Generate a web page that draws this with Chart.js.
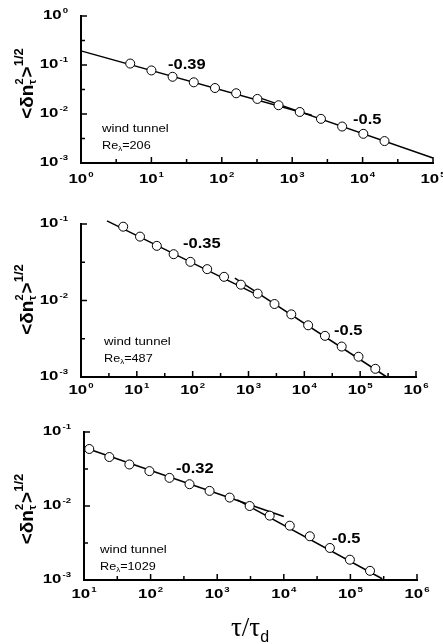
<!DOCTYPE html>
<html>
<head>
<meta charset="utf-8">
<script src="https://cdn.jsdelivr.net/npm/chart.js@4/dist/chart.umd.min.js"></script>
<style>
  html, body { margin: 0; padding: 0; background: #fff; }
  #wrap { position: relative; width: 443px; height: 644px; }
  canvas { position: absolute; left: 0; }
</style>
</head>
<body>
<div id="wrap">
  <canvas id="c1" width="443" height="205" style="top:0"></canvas>
  <canvas id="c2" width="443" height="205" style="top:205px"></canvas>
  <canvas id="c3" width="443" height="234" style="top:410px"></canvas>
</div>
<script>
// Re_lambda = 206
const tau1 = [5, 10, 20, 40, 80, 160, 320, 640, 1280, 2560, 5120, 10240, 20480];
const dn1 = [0.107, 0.0775, 0.0575, 0.0443, 0.0339, 0.0265, 0.0203, 0.0151, 0.0110, 0.00796, 0.00555, 0.00394, 0.00280];
const fitShortTau1 = [1, 1900];
const fitShortDn1 = [0.194, 0.00946];
const fitLongTau1 = [316, 100000];
const fitLongDn1 = [0.0224, 0.00126];

// Re_lambda = 487
const tau2 = [5.7, 11.4, 22.8, 45.6, 91, 182, 365, 730, 1460, 2920, 5840, 11700, 23400, 46700, 93400, 187000];
const dn2 = [0.0922, 0.0684, 0.0518, 0.0403, 0.0320, 0.0257, 0.0204, 0.0161, 0.0123, 0.0090, 0.00659, 0.00474, 0.00345, 0.00250, 0.00184, 0.00128];
const fitShortTau2 = [2.92, 1600];
const fitShortDn2 = [0.110, 0.0114];
const fitLongTau2 = [570, 300000];
const fitLongDn2 = [0.0196, 0.00100];

// Re_lambda = 1029
const tau3 = [12, 24, 48, 96, 192, 384, 768, 1540, 3070, 6140, 12300, 24600, 49200, 98300, 197000];
const dn3 = [0.0589, 0.0459, 0.0364, 0.0296, 0.0240, 0.0197, 0.0160, 0.0130, 0.0100, 0.00741, 0.00542, 0.00390, 0.00271, 0.00188, 0.00133];
const fitShortTau3 = [12, 10000];
const fitShortDn3 = [0.0585, 0.0072];
const fitLongTau3 = [2000, 300000];
const fitLongDn3 = [0.0121, 0.00104];

const SANS = '"Liberation Sans", Arial, Helvetica, sans-serif';
const SERIF = '"Liberation Serif", "Times New Roman", serif';

const pts = (xs, ys) => xs.map((x, i) => ({ x: x, y: ys[i] }));

// the original lettering is a bit wider than Arial, so stretch it sideways
function wideText(ctx, txt, x, y, font, sx) {
  ctx.font = font;
  ctx.save();
  ctx.translate(x, y);
  ctx.scale(sx, 1);
  ctx.fillText(txt, 0, 0);
  ctx.restore();
  return ctx.measureText(txt).width * sx;
}
function textW(ctx, txt, font, sx) {
  ctx.font = font;
  return ctx.measureText(txt).width * sx;
}

function powLabel(ctx, exp, x, y, align) {
  const fb = 'bold 12px ' + SANS, fe = 'bold 8px ' + SANS;
  const wb = textW(ctx, '10', fb, 1.4);
  const we = textW(ctx, exp, fe, 1.2);
  const w = wb + 1 + we;
  const left = align === 'right' ? x - w : x - w / 2;
  ctx.textAlign = 'left';
  ctx.textBaseline = 'middle';
  wideText(ctx, '10', left, y, fb, 1.4);
  wideText(ctx, exp, left + wb + 1, y - 5, fe, 1.2);
}

// ticks pointing inwards, decade labels, y title and in-plot notes
const decor = {
  id: 'decor',
  afterDraw(chart, args, opts) {
    const { ctx, chartArea: a, scales: { x, y } } = chart;
    ctx.save();
    ctx.strokeStyle = '#000';
    ctx.fillStyle = '#000';
    ctx.lineWidth = 1.5;
    const x0 = Math.round(Math.log10(x.min)), x1 = Math.round(Math.log10(x.max));
    const y0 = Math.round(Math.log10(y.min)), y1 = Math.round(Math.log10(y.max));
    ctx.beginPath();
    for (let e = x0; e <= x1; e++) {
      const px = x.getPixelForValue(Math.pow(10, e));
      ctx.moveTo(px, a.bottom); ctx.lineTo(px, a.bottom - 6);
      if (e < x1) {
        const pm = x.getPixelForValue(Math.pow(10, e + 0.5));
        ctx.moveTo(pm, a.bottom); ctx.lineTo(pm, a.bottom - 4);
      }
    }
    for (let e = y0; e <= y1; e++) {
      const py = y.getPixelForValue(Math.pow(10, e));
      ctx.moveTo(a.left, py); ctx.lineTo(a.left + 6, py);
      if (e < y1) {
        const pm = y.getPixelForValue(Math.pow(10, e + 0.5));
        ctx.moveTo(a.left, pm); ctx.lineTo(a.left + 4, pm);
      }
    }
    ctx.stroke();

    for (let e = x0; e <= x1; e++) {
      powLabel(ctx, String(e), x.getPixelForValue(Math.pow(10, e)), a.bottom + opts.xLabelGap, 'center');
    }
    for (let e = y0; e <= y1; e++) {
      powLabel(ctx, String(e), a.left - 13, y.getPixelForValue(Math.pow(10, e)), 'right');
    }

    // y title  <δn_τ^2>^{1/2}
    ctx.save();
    ctx.translate(33, (a.top + a.bottom) / 2 + opts.titleShift);
    ctx.rotate(-Math.PI / 2);
    ctx.textBaseline = 'alphabetic';
    ctx.textAlign = 'left';
    const big = 'bold 19px ' + SANS, small = 'bold 11px ' + SANS, half = 'bold 13px ' + SANS;
    ctx.font = big;
    const wMain = ctx.measureText('<δn').width;
    const wGt = ctx.measureText('>').width;
    ctx.font = small;
    const wStack = Math.max(ctx.measureText('τ').width, ctx.measureText('2').width) + 1;
    ctx.font = half;
    const wHalf = ctx.measureText('1/2').width;
    let cx = -(wMain + wStack + wGt + wHalf) / 2;
    ctx.font = big; ctx.fillText('<δn', cx, 0); cx += wMain;
    ctx.font = small; ctx.fillText('τ', cx, 3); ctx.fillText('2', cx, -10); cx += wStack;
    ctx.font = big; ctx.fillText('>', cx, 0); cx += wGt;
    ctx.font = half; ctx.fillText('1/2', cx, -10);
    ctx.restore();

    // notes
    ctx.textAlign = 'left';
    ctx.textBaseline = 'middle';
    opts.notes.forEach(n => {
      wideText(ctx, n.text, n.x, n.y, 'bold 15px ' + SANS, 1.1);
    });
    const w = opts.wind;
    const f11 = '11px ' + SANS;
    wideText(ctx, 'wind tunnel', w.x, w.y, f11, 1.2);
    let rx = w.x + wideText(ctx, 'Re', w.x, w.y + 17, f11, 1.15);
    rx += wideText(ctx, 'λ', rx, w.y + 20, '7px ' + SANS, 1.15);
    wideText(ctx, '=' + w.re, rx, w.y + 17, f11, 1.15);

    if (opts.xTitle) {
      ctx.textBaseline = 'alphabetic';
      ctx.font = '27px ' + SERIF;
      const wt = ctx.measureText('τ/τ').width;
      ctx.font = '16px ' + SANS;
      const wd = ctx.measureText('d').width;
      const left = 250 - (wt + wd) / 2;
      ctx.font = '27px ' + SERIF;
      ctx.fillText('τ/τ', left, 226);
      ctx.font = '16px ' + SANS;
      ctx.fillText('d', left + wt, 232);
    }
    ctx.restore();
  }
};

function makeChart(id, tau, dn, fa, fb, xr, yr, pad, decorOpts) {
  const lineStyle = { showLine: true, borderColor: '#000', borderWidth: 1.5, pointRadius: 0, clip: false };
  new Chart(document.getElementById(id), {
    type: 'scatter',
    data: {
      datasets: [
        {
          data: pts(tau, dn),
          pointRadius: 4.5,
          pointBackgroundColor: '#fff',
          pointBorderColor: '#000',
          pointBorderWidth: 1,
          clip: false
        },
        Object.assign({ data: pts(fa[0], fa[1]) }, lineStyle),
        Object.assign({ data: pts(fb[0], fb[1]) }, lineStyle)
      ]
    },
    options: {
      responsive: false,
      animation: false,
      devicePixelRatio: 1,
      layout: { padding: pad },
      scales: {
        x: {
          type: 'logarithmic', min: xr[0], max: xr[1],
          grid: { display: false, drawTicks: false },
          border: { display: true, color: '#000', width: 2 },
          ticks: { display: false }
        },
        y: {
          type: 'logarithmic', min: yr[0], max: yr[1],
          grid: { display: false, drawTicks: false },
          border: { display: true, color: '#000', width: 2 },
          ticks: { display: false }
        }
      },
      plugins: {
        legend: { display: false },
        tooltip: { enabled: false },
        decor: decorOpts
      }
    },
    plugins: [decor]
  });
}

makeChart('c1', tau1, dn1, [fitShortTau1, fitShortDn1], [fitLongTau1, fitLongDn1],
  [1, 1e5], [1e-3, 1], { left: 81, right: 10, top: 16, bottom: 42 },
  { xLabelGap: 17, titleShift: -6, notes: [{ text: '-0.39', x: 168, y: 65 }, { text: '-0.5', x: 353, y: 120 }],
    wind: { x: 102, y: 129, re: '206' } });

makeChart('c2', tau2, dn2, [fitShortTau2, fitShortDn2], [fitLongTau2, fitLongDn2],
  [1, 1e6], [1e-3, 1e-1], { left: 81, right: 27, top: 19, bottom: 33 },
  { xLabelGap: 14, titleShift: -1, notes: [{ text: '-0.35', x: 183, y: 39 }, { text: '-0.5', x: 334, y: 126 }],
    wind: { x: 104, y: 137, re: '487' } });

makeChart('c3', tau3, dn3, [fitShortTau3, fitShortDn3], [fitLongTau3, fitLongDn3],
  [10, 1e6], [1e-3, 1e-1], { left: 84, right: 26, top: 22, bottom: 64 },
  { xLabelGap: 15, titleShift: 3, notes: [{ text: '-0.32', x: 176, y: 59 }, { text: '-0.5', x: 332, y: 129 }],
    wind: { x: 100, y: 140, re: '1029' }, xTitle: true });
</script>
</body>
</html>
